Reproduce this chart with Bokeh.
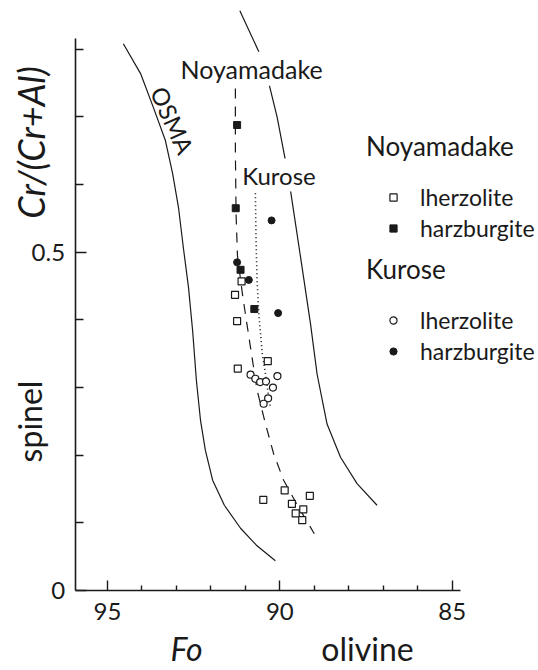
from math import pi

from bokeh.embed import file_html
from bokeh.models import FixedTicker, Label, Legend, LegendItem, Range1d
from bokeh.plotting import figure
from bokeh.resources import INLINE

FONT = "Lato"
INK = "#1a1a1a"

# Noyamadake peridotites: olivine Fo vs spinel Cr/(Cr+Al)
noy_lherz_fo = [91.11, 91.30, 91.24, 90.35, 91.22, 89.86, 90.48, 89.13, 89.65, 89.32, 89.54, 89.35]
noy_lherz_cr = [0.457, 0.437, 0.398, 0.339, 0.328, 0.148, 0.134, 0.140, 0.128, 0.120, 0.114, 0.104]
noy_harz_fo = [91.24, 91.28, 91.14, 90.74]
noy_harz_cr = [0.688, 0.565, 0.474, 0.416]

# Kurose peridotites
kur_lherz_fo = [90.85, 90.71, 90.57, 90.40, 90.07, 90.20, 90.34, 90.47]
kur_lherz_cr = [0.319, 0.313, 0.308, 0.309, 0.317, 0.300, 0.284, 0.276]
kur_harz_fo = [90.24, 91.24, 90.90, 90.05]
kur_harz_cr = [0.547, 0.485, 0.459, 0.410]

# OSMA (olivine-spinel mantle array) boundaries
osma_left_fo = [94.54, 94.04, 93.67, 93.32, 93.11, 92.94, 92.80, 92.65, 92.53,
                92.42, 92.30, 92.16, 91.95, 91.61, 91.14, 90.68, 90.13]
osma_left_cr = [0.808, 0.764, 0.714, 0.665, 0.616, 0.566, 0.507, 0.448, 0.384,
                0.310, 0.251, 0.207, 0.163, 0.126, 0.092, 0.067, 0.044]
osma_right_fo = [91.16, 90.58, 90.34, 90.08, 89.84, 89.69, 89.40, 89.11, 88.92,
                 88.63, 88.24, 87.76, 87.18]
osma_right_cr = [0.857, 0.793, 0.754, 0.700, 0.636, 0.591, 0.493, 0.394, 0.320,
                 0.246, 0.197, 0.158, 0.126]

# Trends of each locality
noy_trend_fo = [91.29, 91.29, 91.27, 91.23, 91.09, 91.00, 90.85, 90.66, 90.42,
                90.18, 89.89, 89.49, 89.00]
noy_trend_cr = [0.742, 0.650, 0.557, 0.495, 0.440, 0.409, 0.359, 0.296, 0.247,
                0.202, 0.163, 0.126, 0.084]
kur_trend_fo = [90.71, 90.69, 90.66, 90.61, 90.51, 90.42, 90.32, 90.27]
kur_trend_cr = [0.587, 0.517, 0.458, 0.409, 0.350, 0.321, 0.285, 0.269]

# axis ticks
fo_major = [85, 90, 95]
fo_minor = [86, 87, 88, 89, 91, 92, 93, 94]
cr_major = [0, 0.5]
cr_minor = [0.1, 0.2, 0.3, 0.4, 0.6, 0.7, 0.8]

# The frame fills the whole canvas; the axes are pinned at fixed data
# locations so that titles and legend can sit around them freely.
p = figure(
    width=538, height=670,
    x_range=Range1d(98.104, 82.496), y_range=Range1d(-0.1182, 0.8720),
    output_backend="svg", toolbar_location=None,
)
p.min_border = 0
p.outline_line_color = None
p.grid.visible = False
p.background_fill_color = "white"
p.border_fill_color = "white"

xa = p.xaxis[0]
xa.ticker = FixedTicker(ticks=fo_major, minor_ticks=fo_minor)
xa.bounds = (84.76, 95.94)
xa.fixed_location = 0
ya = p.yaxis[0]
ya.ticker = FixedTicker(ticks=cr_major, minor_ticks=cr_minor)
ya.bounds = (0, 0.816)
ya.fixed_location = 95.94
ya.major_label_overrides = {0: "0", 0.5: "0.5"}

for ax, mj, mn in ((xa, 10, 5), (ya, 11, 8)):
    ax.axis_line_color = INK
    ax.axis_line_width = 1.6
    ax.major_tick_line_color = INK
    ax.minor_tick_line_color = INK
    ax.major_tick_line_width = 1.4
    ax.minor_tick_line_width = 1.4
    ax.major_tick_in = mj
    ax.major_tick_out = 0
    ax.minor_tick_in = mn
    ax.minor_tick_out = 0
    ax.major_label_text_font = FONT
    ax.major_label_text_font_size = "24px"
    ax.major_label_text_color = INK
xa.major_label_standoff = 12
ya.major_label_standoff = 10

# OSMA band limits
p.line(osma_left_fo, osma_left_cr, line_color=INK, line_width=1.2)
p.line(osma_right_fo, osma_right_cr, line_color=INK, line_width=1.2)

# locality trends
p.line(noy_trend_fo, noy_trend_cr, line_color=INK, line_width=1.2, line_dash="10 8")
p.line(kur_trend_fo, kur_trend_cr, line_color=INK, line_width=1.6, line_dash="1 3")

r_noy_l = p.scatter(noy_lherz_fo, noy_lherz_cr, marker="square", size=7,
                    fill_color="white", line_color=INK, line_width=1.2)
r_noy_h = p.scatter(noy_harz_fo, noy_harz_cr, marker="square", size=7,
                    fill_color=INK, line_color=INK, line_width=1)
r_kur_l = p.scatter(kur_lherz_fo, kur_lherz_cr, marker="circle", size=7,
                    fill_color="white", line_color=INK, line_width=1.2)
r_kur_h = p.scatter(kur_harz_fo, kur_harz_cr, marker="circle", size=7,
                    fill_color=INK, line_color=INK, line_width=1)

# in-plot annotations
p.add_layout(Label(x=92.94, y=0.771, text="Noyamadake", text_font=FONT,
                   text_font_size="25px", text_color=INK, text_baseline="alphabetic",
                   background_fill_color="white", padding=2))
p.add_layout(Label(x=91.15, y=0.614, text="Kurose", text_font=FONT,
                   text_font_size="24px", text_color=INK, text_baseline="alphabetic",
                   background_fill_color="white", padding=2))
p.add_layout(Label(x=93.11, y=0.695, text="OSMA", text_font=FONT,
                   text_font_size="24px", text_color=INK, angle=-1.15,
                   text_align="center", text_baseline="middle"))

# axis titles, placed in canvas pixels measured from the bottom-left corner
def axis_text(x, y, text, size, italic=False, angle=0.0):
    p.add_layout(Label(x=x, y=y, x_units="screen", y_units="screen", text=text,
                       text_font=FONT, text_font_size=size, text_color=INK,
                       text_font_style="italic" if italic else "normal",
                       angle=angle, text_align="center", text_baseline="alphabetic"))

axis_text(30, 528, "Cr/(Cr+Al)", "36px", italic=True, angle=pi / 2)
axis_text(29, 249, "spinel", "32px", angle=pi / 2)
axis_text(186, 22, "Fo", "32px", italic=True)
axis_text(367, 22, "olivine", "32px")

# legends
def make_legend(title, items, loc):
    lg = Legend(items=items, title=title, location=loc)
    lg.title_text_font = FONT
    lg.title_text_font_size = "26px"
    lg.title_text_font_style = "normal"
    lg.title_text_color = INK
    lg.title_standoff = 21
    lg.label_text_font = FONT
    lg.label_text_font_size = "23px"
    lg.label_text_color = INK
    lg.glyph_width = 54
    lg.glyph_height = 18
    lg.label_standoff = -6
    lg.spacing = 3
    lg.padding = 0
    lg.margin = 0
    lg.border_line_color = None
    lg.background_fill_alpha = 0
    p.add_layout(lg)

make_legend("Noyamadake", [LegendItem(label="lherzolite", renderers=[r_noy_l]),
                           LegendItem(label="harzburgite", renderers=[r_noy_h])], (366, 428))
make_legend("Kurose", [LegendItem(label="lherzolite", renderers=[r_kur_l]),
                       LegendItem(label="harzburgite", renderers=[r_kur_h])], (366, 305))

open("out.html", "w").write(file_html(p, INLINE))
